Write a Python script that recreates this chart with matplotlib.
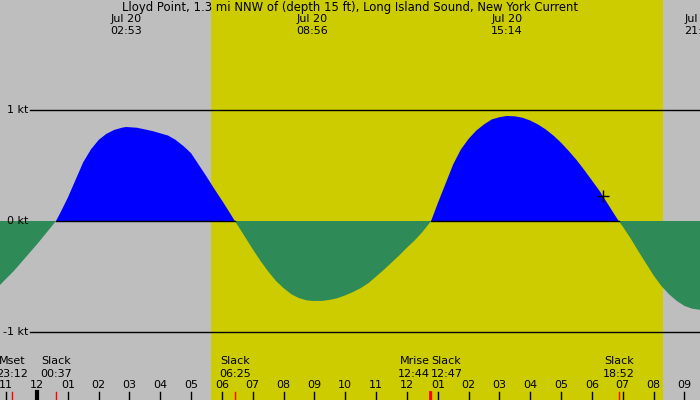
import numpy as np
import matplotlib
matplotlib.use("Agg")
import matplotlib.pyplot as plt

# hours since midnight Jul 20, current speed in knots (flood +, ebb -)
hours = [-1.5, -1.25, -1.0, -0.75, -0.5, -0.25, 0.0, 0.25, 0.5, 0.617,
         0.75, 1.0, 1.25, 1.5, 1.75, 2.0, 2.25, 2.5, 2.75, 2.883, 3.25, 3.5, 3.75,
         4.0, 4.25, 4.5, 4.75, 5.0, 5.25, 5.5, 5.75, 6.0, 6.25, 6.417,
         6.5, 6.75, 7.0, 7.25, 7.5, 7.75, 8.0, 8.25, 8.5, 8.75, 8.933, 9.25, 9.5, 9.75,
         10.0, 10.25, 10.5, 10.75, 11.0, 11.25, 11.5, 11.75, 12.0, 12.25, 12.5, 12.783,
         13.0, 13.25, 13.5, 13.75, 14.0, 14.25, 14.5, 14.75, 15.0, 15.233, 15.5, 15.75,
         16.0, 16.25, 16.5, 16.75, 17.0, 17.25, 17.5, 17.75, 18.0, 18.25, 18.5, 18.75, 18.867,
         19.0, 19.25, 19.5, 19.75, 20.0, 20.25, 20.5, 20.75, 21.0, 21.25, 21.5, 21.75]
speeds = [-0.64, -0.59, -0.52, -0.45, -0.37, -0.29, -0.21, -0.125, -0.04, 0.0,
          0.07, 0.21, 0.37, 0.53, 0.645, 0.73, 0.785, 0.82, 0.84, 0.847, 0.84, 0.825, 0.81,
          0.79, 0.77, 0.73, 0.675, 0.61, 0.505, 0.40, 0.29, 0.185, 0.075, 0.0,
          -0.035, -0.145, -0.255, -0.36, -0.455, -0.54, -0.605, -0.66, -0.695, -0.715, -0.72, -0.72, -0.71, -0.695,
          -0.67, -0.64, -0.605, -0.56, -0.5, -0.44, -0.375, -0.31, -0.24, -0.175, -0.1, 0.0,
          0.16, 0.335, 0.51, 0.645, 0.74, 0.815, 0.87, 0.915, 0.935, 0.946, 0.943, 0.93,
          0.905, 0.87, 0.825, 0.77, 0.705, 0.63, 0.55, 0.46, 0.365, 0.27, 0.16, 0.05, 0.0,
          -0.05, -0.155, -0.27, -0.38, -0.49, -0.585, -0.66, -0.72, -0.765, -0.79, -0.80, -0.805]

sunrise, sunset = 5.64, 20.30
now_t, now_v = 18.37, 0.225

max_times = [2.883, 8.933, 15.233, 21.5]
max_dates = ["Jul 20", "Jul 20", "Jul 20", "Jul 21"]
max_labels = ["02:53", "08:56", "15:14", "21:30"]

events = [(-0.8, "Mset", "23:12", "center"), (0.617, "Slack", "00:37", "center"),
          (6.417, "Slack", "06:25", "center"), (12.733, "Mrise", "12:44", "right"),
          (12.783, "Slack", "12:47", "left"), (18.867, "Slack", "18:52", "center")]

hour_ticks = list(range(-1, 22))
hour_labels = ["%02d" % ((h % 12) or 12) for h in hour_ticks]

title = "Lloyd Point, 1.3 mi NNW of (depth 15 ft), Long Island Sound, New York Current"

t = np.array(hours)
v = np.array(speeds)

fig = plt.figure(figsize=(7, 4), dpi=100)
ax = fig.add_axes([0, 0, 1, 1])
px = 30.83  # pixels per hour
x0 = -37 / px
x1 = (700 - 37) / px
ax.set_xlim(x0, x1)
ax.set_ylim(-179 / 111, 221 / 111)
ax.axis("off")

fs = 8
gray, yellow = "#bebebe", "#cccc00"
ax.axvspan(x0, sunrise, color=gray, lw=0, zorder=0)
ax.axvspan(sunrise, sunset, color=yellow, lw=0, zorder=0)
ax.axvspan(sunset, x1, color=gray, lw=0, zorder=0)

for lv, lab in [(1, "1 kt"), (0, "0 kt"), (-1, "-1 kt")]:
    if lv != 0:
        ax.axhline(lv, xmin=30 / 700, color="black", lw=1, zorder=1)
    ax.text(x0 + 28 / px, lv, lab, ha="right", va="center", fontsize=fs)

ax.fill_between(t, v, 0, where=v >= 0, interpolate=True, color="#0000ff", lw=0, zorder=2)
ax.fill_between(t, v, 0, where=v <= 0, interpolate=True, color="#2e8b57", lw=0, zorder=2)
ax.plot(t, np.where(v >= 0, 0, np.nan), color="black", lw=1, zorder=3)
ax.plot(now_t, now_v, marker="+", color="black", ms=9, mew=1, zorder=4)

ax.text(x0 + 350 / px, 1.919, title, ha="center", va="center", fontsize=8.4)
for mt, d, lab in zip(max_times, max_dates, max_labels):
    ax.text(mt, 1.82, d, ha="center", va="center", fontsize=fs)
    ax.text(mt, 1.712, lab, ha="center", va="center", fontsize=fs)

ybot = -179 / 111
ytick = (221 - 392) / 111
for h, lab in zip(hour_ticks, hour_labels):
    ax.text(h, -1.477, lab, ha="center", va="center", fontsize=fs)
    ax.plot([h, h], [ytick, ybot], color="black", lw=3 if h == 0 else 1, zorder=3)

for et, name, tm, ha in events:
    ax.text(et, -1.261, name, ha=ha, va="center", fontsize=fs)
    ax.text(et, -1.378, tm, ha=ha, va="center", fontsize=fs)
    ax.plot([et, et], [ytick, ybot], color="red", lw=2 if name == "Mrise" else 1, zorder=4)

fig.savefig("out.png", dpi=100)
